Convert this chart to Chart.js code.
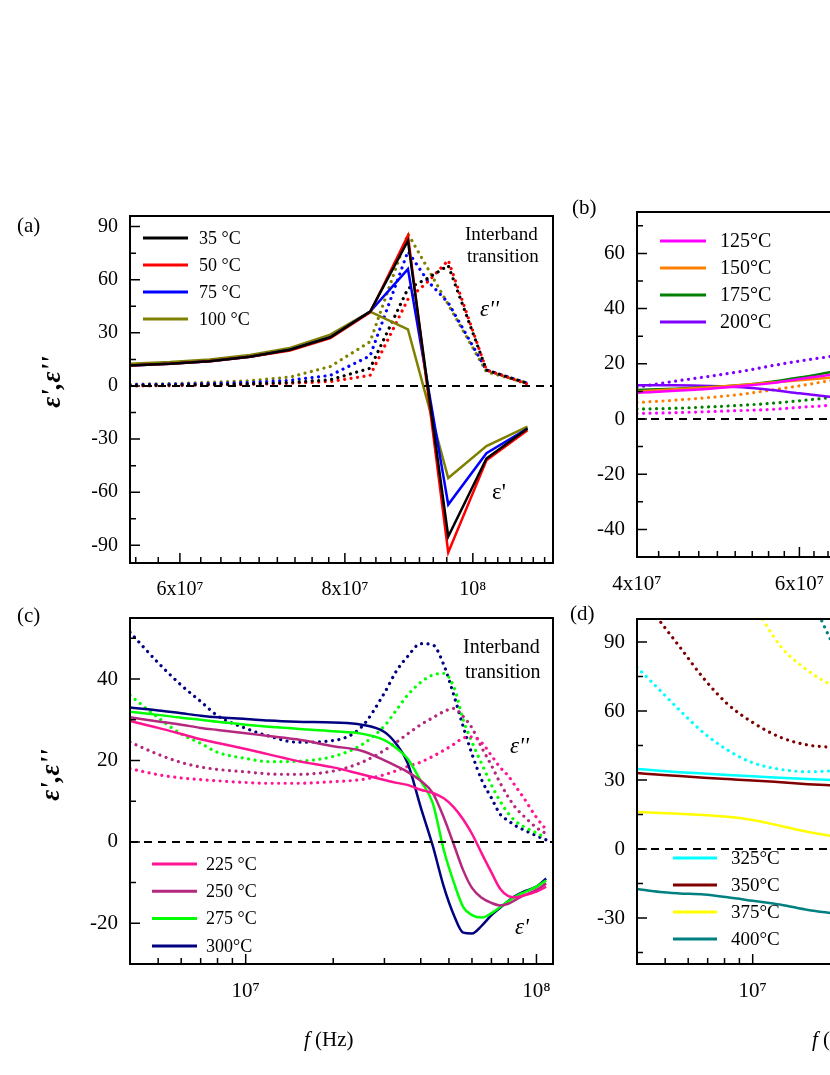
<!DOCTYPE html>
<html>
<head>
<meta charset="utf-8">
<script src="https://cdn.jsdelivr.net/npm/chart.js@4.4.1/dist/chart.umd.min.js"></script>
<style>
html, body { margin: 0; padding: 0; background: #fff; overflow: hidden; }
#wrap { position: relative; width: 830px; height: 1075px; overflow: hidden; font-family: "Liberation Serif", "Times New Roman", serif; color: #000; }
canvas { position: absolute; left: 0; top: 0; }
.t { position: absolute; white-space: nowrap; line-height: 1; }
.yt { position: absolute; white-space: nowrap; line-height: 1; font-size: 27px; font-style: italic; font-weight: bold; transform: translate(-50%, -50%) rotate(-90deg); }
</style>
</head>
<body>
<div id="wrap">
<canvas id="chartA" width="830" height="1075"></canvas>
<canvas id="chartB" width="1150" height="1075"></canvas>
<canvas id="chartC" width="830" height="1075"></canvas>
<canvas id="chartD" width="1150" height="1075"></canvas>

<div class="t" style="left:17px;top:215px;font-size:21px">(a)</div>
<div class="t" style="left:572px;top:197px;font-size:21px">(b)</div>
<div class="t" style="left:17px;top:605px;font-size:21px">(c)</div>
<div class="t" style="left:570px;top:603px;font-size:21px">(d)</div>

<div class="t" style="left:465px;top:224px;font-size:19px">Interband</div>
<div class="t" style="left:467px;top:246px;font-size:19px">transition</div>
<div class="t" style="left:480px;top:297px;font-size:23px;font-style:italic">&epsilon;''</div>
<div class="t" style="left:492px;top:480px;font-size:23px">&epsilon;'</div>

<div class="t" style="left:463px;top:636px;font-size:20px">Interband</div>
<div class="t" style="left:465px;top:661px;font-size:20px">transition</div>
<div class="t" style="left:510px;top:734px;font-size:23px;font-style:italic">&epsilon;''</div>
<div class="t" style="left:515px;top:915px;font-size:23px;font-style:italic">&epsilon;'</div>

<div class="yt" style="left:51px;top:382px">&epsilon;',&epsilon;''</div>
<div class="yt" style="left:50px;top:775px">&epsilon;',&epsilon;''</div>

<div class="t" style="left:304px;top:1029px;font-size:21px"><i>f</i> (Hz)</div>
<div class="t" style="left:812px;top:1029px;font-size:21px"><i>f</i> (Hz)</div>
</div>

<script>
// ---------- (a) 35-100 °C ----------
const freqA = [5.5e7, 5.9e7, 6.32e7, 6.78e7, 7.27e7, 7.8e7, 8.36e7, 8.93e7, 9.25e7, 9.58e7, 1.024e8, 1.10e8];
const labelsA = ['35 °C', '50 °C', '75 °C', '100 °C'];
const colorsA = ['#000000', '#ff0000', '#0000ff', '#808000'];
const realA = [
  [11.5, 12.5, 14, 16.5, 20.5, 27.5, 42, 82, null, -85, -41, -24],
  [11.5, 12.5, 14, 16.5, 20, 27, 41.5, 85, null, -94, -42, -25],
  [11.5, 12.5, 14, 16.5, 20.5, 27.5, 42, 66, null, -67, -38, -24],
  [12.5, 13.5, 15, 17.5, 21.5, 29, 42, 32, null, -52, -34, -23]
];
const imagA = [
  [0.3, 0.5, 0.8, 1.2, 2, 3.5, 10, 55, 61, 68, 9, 1.5],
  [0, 0.2, 0.5, 0.9, 1.5, 2.5, 6, 49, 59, 71, 9, 1],
  [0.7, 1, 1.4, 2, 3.2, 6, 17, 76, 59, 47, 9, 1.5],
  [1, 1.3, 2, 3, 5, 11, 25, 86, 66, 46, 8, 1.5]
];
const xMajorA = [4e7, 6e7, 8e7, 1e8, 1.2e8];
const xLabelA = ['4x10⁷', '6x10⁷', '8x10⁷', '10⁸', '1.2x10⁸'];
const yMajorA = [-120, -90, -60, -30, 0, 30, 60, 90, 120];

// ---------- (b) 125-200 °C ----------
const freqB = [4e7, 4.4e7, 4.8e7, 5.2e7, 5.6e7, 6e7, 6.5e7];
const labelsB = ['125°C', '150°C', '175°C', '200°C'];
const colorsB = ['#ff00ff', '#ff8000', '#008000', '#8000ff'];
const realB = [
  [9.5, 10.2, 11, 12, 13, 14.5, 16],
  [10, 10.8, 11.5, 12.3, 13.2, 14, 15],
  [10.5, 11, 11.6, 12.3, 13.5, 15, 17],
  [12.2, 12.2, 12, 11.5, 10.5, 9.3, 8]
];
const imagB = [
  [2, 2.3, 2.7, 3.1, 3.5, 4.2, 5],
  [6, 6.8, 7.8, 9, 10.5, 12, 14],
  [3.6, 3.9, 4.4, 5, 5.7, 6.6, 7.8],
  [11.5, 13.7, 15.5, 17.3, 19.3, 21, 22.7]
];
const xMajorB = [4e7, 6e7, 8e7, 1e8, 1.2e8];
const xLabelB = ['4x10⁷', '6x10⁷', '8x10⁷', '10⁸', '1.2x10⁸'];
const yMajorB = [-60, -40, -20, 0, 20, 40, 60, 80];

// ---------- (c) 225-300 °C ----------
const freqC = [4e6, 5e6, 6e6, 7e6, 8e6, 1e7, 1.2e7, 1.5e7, 2e7, 2.5e7, 3e7, 3.3e7, 3.6e7, 4e7,
  4.4e7, 4.8e7, 5.2e7, 5.6e7, 6e7, 6.5e7, 7e7, 7.5e7, 8e7, 8.5e7, 9e7, 1e8, 1.08e8];
const labelsC = ['225 °C', '250 °C', '275 °C', '300°C'];
const colorsC = ['#ff1493', '#b4287f', '#00ff00', '#000080'];
const realC = [
  [29.7, 28, 26.5, 25.2, 24.3, 22.8, 21.5, 19.9, 18.3, 16.6, 15.2, 14.5, 14, 12.8, 12, 10.7, 8.5, 5.5, 2, -3, -7.5, -11.5, -13.3, -13.6, -13.2, -12.2, -11],
  [30.6, 29.6, 28.8, 28, 27.5, 26.7, 26, 25.2, 23.5, 22.4, 20, 18.6, 17.2, 15, 12, 6, -0.7, -7, -11.3, -13.8, -15, -15.6, -15.2, -14.2, -13.2, -11.8, -10.2],
  [32, 31.2, 30.5, 30, 29.5, 28.8, 28.3, 27.8, 27.2, 26.6, 25, 23, 20.5, 15, 9.5, -2, -10, -16, -18, -18.6, -17.5, -16, -14.6, -13.4, -12.5, -11, -9.5],
  [33, 32.3, 31.6, 31, 30.6, 30.2, 29.8, 29.5, 29.3, 28.8, 27, 24, 19.5, 8.5, -1, -11, -18, -22.3, -22.5, -20.5, -18, -16.2, -14.5, -13.2, -12.3, -11, -9]
];
const imagC = [
  [18, 16.5, 15.7, 15.3, 15, 14.6, 14.4, 14.4, 14.8, 15.3, 16.5, 17.5, 18.5, 19.6, 21, 22.5, 24, 25.5, 25.8, 24.3, 21.2, 18.3, 16.2, 13.5, 11, 6, 3],
  [24.5, 21.5, 19.5, 18.4, 17.8, 17.2, 16.7, 16.6, 17.4, 19.5, 22.5, 24.5, 26.5, 28.8, 30.5, 32, 32.8, 30.8, 28, 23, 18.8, 14.5, 11, 8.3, 6.5, 3.5, 2],
  [36, 30.5, 26.5, 24.2, 22, 20.5, 19.7, 19.8, 21, 23.8, 28.5, 32.4, 36, 39.2, 41, 41.4, 38, 30, 24.5, 19, 14, 10, 7, 5, 3.8, 2.2, 1],
  [51.5, 44, 38.5, 34.5, 31, 27.9, 26, 24.5, 24.9, 28.2, 36.6, 42, 45.5, 48.7, 48.4, 43.5, 36, 28.3, 21.6, 15, 10.8, 6.8, 5.2, 3.9, 3, 1.5, 0.5]
];
const xMajorC = [1e6, 1e7, 1e8, 1e9];
const xLabelC = ['10⁶', '10⁷', '10⁸', '10⁹'];
const yMajorC = [-40, -20, 0, 20, 40, 60];

// ---------- (d) 325-400 °C ----------
const freqD = [4e6, 4.8e6, 5.6e6, 6.8e6, 8.2e6, 1e7, 1.25e7, 1.55e7, 1.9e7];
const labelsD = ['325°C', '350°C', '375°C', '400°C'];
const colorsD = ['#00ffff', '#800000', '#ffff00', '#008080'];
const realD = [
  [34.8, 34, 33.4, 32.8, 32.2, 31.6, 31, 30.4, 30],
  [33, 32.3, 31.7, 31, 30.4, 29.8, 29, 28.2, 27.6],
  [16.1, 15.7, 15.3, 14.8, 14, 12.6, 10, 7.4, 5.5],
  [-17.4, -18.7, -19.3, -19.8, -21, -22.5, -24.2, -26.5, -28]
];
const imagD = [
  [79, 69, 60.4, 50.4, 43, 37.5, 34.6, 33.6, 34],
  [112, 99, 88, 74, 63, 55, 48.5, 45.2, 44.2],
  [null, null, null, null, null, 107, 88, 77.5, 70.5],
  [null, null, null, null, null, null, null, 112, 88]
];
const xMajorD = [1e6, 1e7, 1e8, 1e9];
const xLabelD = ['10⁶', '10⁷', '10⁸', '10⁹'];
const yMajorD = [-60, -30, 0, 30, 60, 90, 120];

Chart.defaults.font.family = '"Liberation Serif", "Times New Roman", serif';
Chart.defaults.color = '#000';

// major ticks with labels, plus evenly spaced minor ticks between them
function buildTicks(majors, labels, nMinor, min, max) {
  const out = [];
  for (let i = 0; i < majors.length; i++) {
    if (majors[i] >= min && majors[i] <= max) out.push({ value: majors[i], lab: labels[i], big: true });
    if (i < majors.length - 1) {
      const step = (majors[i + 1] - majors[i]) / (nMinor + 1);
      for (let k = 1; k <= nMinor; k++) {
        const v = majors[i] + k * step;
        if (v >= min && v <= max) out.push({ value: v, lab: '', big: false });
      }
    }
  }
  return out.sort((a, b) => a.value - b.value);
}

// frame + inward ticks
const frameTicks = {
  id: 'frameTicks',
  afterDatasetsDraw(chart) {
    const { ctx, chartArea: a } = chart;
    const xs = chart.scales.x, ys = chart.scales.y;
    ctx.save();
    ctx.strokeStyle = '#000';
    ctx.lineWidth = 1.5;
    ctx.beginPath();
    xs.ticks.forEach(t => {
      const p = xs.getPixelForValue(t.value);
      ctx.moveTo(p, a.bottom);
      ctx.lineTo(p, a.bottom - (t.big ? 10 : 6));
    });
    ys.ticks.forEach(t => {
      const p = ys.getPixelForValue(t.value);
      ctx.moveTo(a.left, p);
      ctx.lineTo(a.left + (t.big ? 10 : 6), p);
    });
    ctx.stroke();
    ctx.lineWidth = 2;
    ctx.strokeRect(a.left, a.top, a.right - a.left, a.bottom - a.top);
    ctx.restore();
  }
};

// legend drawn inside the plot area
const inLegend = {
  id: 'inLegend',
  afterDraw(chart, args, o) {
    const { ctx, chartArea: a } = chart;
    ctx.save();
    ctx.font = o.size + 'px "Liberation Serif"';
    ctx.textBaseline = 'middle';
    ctx.fillStyle = '#000';
    let row = 0;
    chart.data.datasets.forEach(ds => {
      if (!ds.inLegend) return;
      const y = a.top + o.y + row * o.gap;
      const x = a.left + o.x;
      ctx.strokeStyle = ds.borderColor;
      ctx.lineWidth = 3;
      ctx.beginPath();
      ctx.moveTo(x, y);
      ctx.lineTo(x + o.len, y);
      ctx.stroke();
      ctx.fillText(ds.label, x + o.len + o.sep, y + 1);
      row++;
    });
    ctx.restore();
  }
};

function panel(id, box, freq, labels, colors, real, imag, xr, yr, xTicks, yTicks, leg, tickSize, smooth) {
  const canvas = document.getElementById(id);
  const W = canvas.width, H = canvas.height;
  const mode = smooth ? 'monotone' : 'default';
  const datasets = [];
  datasets.push({
    data: [{ x: xr[0], y: 0 }, { x: xr[1], y: 0 }],
    borderColor: '#000', borderWidth: 2, borderDash: [8, 6], pointRadius: 0, clip: 0
  });
  labels.forEach((lab, i) => {
    datasets.push({
      label: lab, inLegend: true,
      data: freq.map((f, j) => ({ x: f, y: real[i][j] })),
      borderColor: colors[i], borderWidth: 2.5, pointRadius: 0,
      spanGaps: true, clip: 0, cubicInterpolationMode: mode
    });
  });
  labels.forEach((lab, i) => {
    datasets.push({
      label: lab + " ε''",
      data: freq.map((f, j) => ({ x: f, y: imag[i][j] })),
      borderColor: colors[i], borderWidth: 3.2, borderDash: [0.01, 6.5], borderCapStyle: 'round',
      pointRadius: 0, spanGaps: true, clip: 0, cubicInterpolationMode: mode
    });
  });
  const yW = 100, xH = 60;
  return new Chart(canvas, {
    type: 'line',
    data: { datasets },
    options: {
      responsive: false, animation: false, events: [],
      layout: { padding: { left: box.left - yW, top: box.top, right: W - box.right, bottom: H - box.bottom - xH } },
      plugins: { legend: { display: false }, tooltip: { enabled: false }, inLegend: leg },
      scales: {
        x: {
          type: 'logarithmic', min: xr[0], max: xr[1],
          afterBuildTicks: s => { s.ticks = xTicks.map(t => ({ ...t })); },
          afterFit: s => { s.height = xH; },
          grid: { display: false, drawTicks: false }, border: { display: false },
          ticks: { autoSkip: false, maxRotation: 0, minRotation: 0, padding: 15, font: { size: tickSize },
            callback: (v, i, ts) => ts[i].lab }
        },
        y: {
          type: 'linear', min: yr[0], max: yr[1],
          afterBuildTicks: s => { s.ticks = yTicks.map(t => ({ ...t })); },
          afterFit: s => { s.width = yW; },
          grid: { display: false, drawTicks: false }, border: { display: false },
          ticks: { autoSkip: false, padding: 12, font: { size: tickSize },
            callback: (v, i, ts) => ts[i].lab }
        }
      }
    },
    plugins: [frameTicks, inLegend]
  });
}

const xrA = [5.5e7, 1.15e8], yrA = [-100, 96];
panel('chartA', { left: 130, top: 216, right: 553, bottom: 563 }, freqA, labelsA, colorsA, realA, imagA, xrA, yrA,
  buildTicks(xMajorA, xLabelA, 8, xrA[0], xrA[1]),
  buildTicks(yMajorA, yMajorA.map(String), 1, yrA[0], yrA[1]),
  { x: 13, y: 22, gap: 27, len: 45, sep: 11, size: 18 }, 20, false);

const xrB = [4e7, 1.15e8], yrB = [-50, 75];
panel('chartB', { left: 637, top: 212, right: 1060, bottom: 557 }, freqB, labelsB, colorsB, realB, imagB, xrB, yrB,
  buildTicks(xMajorB, xLabelB, 8, xrB[0], xrB[1]),
  buildTicks(yMajorB, yMajorB.map(String), 1, yrB[0], yrB[1]),
  { x: 23, y: 29, gap: 27, len: 46, sep: 14, size: 20 }, 21, true);

const xrC = [4e6, 1.14e8], yrC = [-30, 55];
panel('chartC', { left: 130, top: 618, right: 553, bottom: 964 }, freqC, labelsC, colorsC, realC, imagC, xrC, yrC,
  buildTicks(xMajorC, xLabelC, 8, xrC[0], xrC[1]),
  buildTicks(yMajorC, yMajorC.map(String), 1, yrC[0], yrC[1]),
  { x: 22, y: 246, gap: 27.3, len: 45, sep: 9, size: 18 }, 21, true);

const xrD = [4e6, 1.14e8], yrD = [-50, 100];
panel('chartD', { left: 637, top: 619, right: 1060, bottom: 964 }, freqD, labelsD, colorsD, realD, imagD, xrD, yrD,
  buildTicks(xMajorD, xLabelD, 8, xrD[0], xrD[1]),
  buildTicks(yMajorD, yMajorD.map(String), 1, yrD[0], yrD[1]),
  { x: 36, y: 239, gap: 27, len: 44, sep: 14, size: 19 }, 21, true);
</script>
</body>
</html>
